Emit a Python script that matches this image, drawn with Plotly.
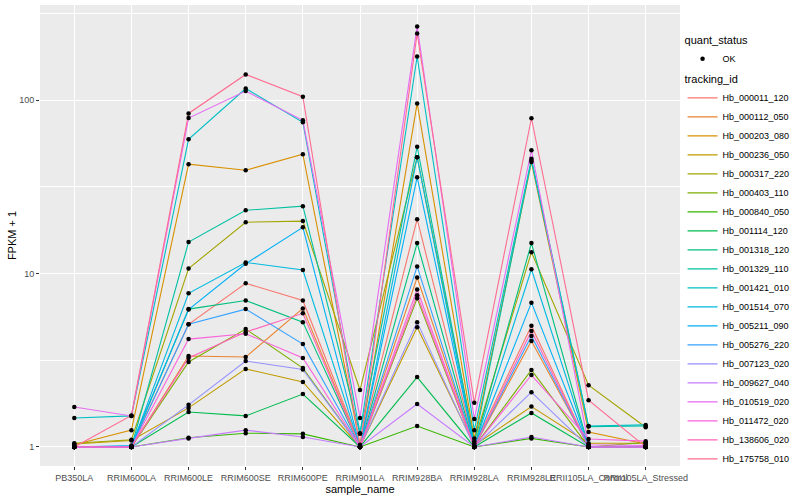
import plotly.graph_objects as go

samples = ["PB350LA", "RRIM600LA", "RRIM600LE", "RRIM600SE", "RRIM600PE", "RRIM901LA",
           "RRIM928BA", "RRIM928LA", "RRIM928LE", "RRII105LA_Control", "RRII105LA_Stressed"]

hb_000011_120 = [1.00, 1.01, 5.10, 8.80, 7.00, 1.02, 20.6, 1.02, 5.00, 1.00, 1.01]
hb_000112_050 = [1.00, 1.00, 3.35, 3.30, 6.30, 1.00, 9.50, 1.00, 4.08, 1.01, 1.00]
hb_000203_080 = [1.03, 1.25, 42.8, 39.5, 48.9, 1.03, 96.0, 1.12, 44.0, 1.22, 1.04]
hb_000236_050 = [1.04, 1.09, 1.68, 2.82, 2.37, 1.00, 4.90, 1.02, 1.71, 1.05, 1.05]
hb_000317_220 = [1.05, 1.10, 10.7, 19.8, 20.1, 2.13, 47.0, 1.08, 13.3, 2.27, 1.30]
hb_000403_110 = [1.00, 1.00, 3.09, 4.79, 2.85, 1.00, 7.20, 1.00, 2.78, 1.00, 1.06]
hb_000840_050 = [1.00, 1.00, 1.13, 1.20, 1.19, 1.00, 1.32, 1.00, 1.12, 1.00, 1.00]
hb_001114_120 = [1.00, 1.00, 1.59, 1.51, 2.02, 1.00, 2.53, 1.00, 1.57, 1.00, 1.00]
hb_001318_120 = [1.00, 1.00, 6.24, 7.00, 5.25, 1.00, 15.0, 1.00, 15.0, 1.00, 1.00]
hb_001329_110 = [1.00, 1.00, 15.2, 23.2, 24.5, 1.19, 54.0, 1.05, 45.0, 1.31, 1.32]
hb_001421_010 = [1.47, 1.51, 59.6, 117., 74.7, 1.20, 179., 1.25, 46.0, 1.32, 1.34]
hb_001514_070 = [1.00, 1.00, 7.70, 11.6, 10.5, 1.00, 47.0, 1.00, 10.6, 1.00, 1.00]
hb_005211_090 = [1.00, 1.02, 6.20, 11.4, 18.5, 1.00, 36.0, 1.00, 6.80, 1.00, 1.00]
hb_005276_220 = [1.00, 1.00, 5.10, 6.24, 3.92, 1.00, 11.0, 1.00, 4.37, 1.00, 1.00]
hb_007123_020 = [1.00, 1.00, 1.75, 3.13, 2.80, 1.00, 5.25, 1.00, 2.07, 1.00, 1.00]
hb_009627_040 = [1.00, 1.00, 1.12, 1.25, 1.14, 1.00, 1.77, 1.00, 1.14, 1.00, 1.00]
hb_010519_020 = [1.70, 1.51, 79.0, 113., 76.7, 1.47, 267., 1.45, 51.5, 1.03, 1.02]
hb_011472_020 = [1.00, 1.00, 4.19, 4.50, 3.26, 1.00, 8.10, 1.00, 2.60, 1.11, 1.08]
hb_138606_020 = [1.00, 1.00, 3.26, 4.60, 5.90, 1.00, 7.50, 1.00, 4.66, 1.00, 1.00]
hb_175758_010 = [1.00, 1.52, 84.0, 141., 105., 1.00, 243., 1.80, 78.8, 1.86, 1.00]

tracking_ids = ["Hb_000011_120", "Hb_000112_050", "Hb_000203_080", "Hb_000236_050",
                "Hb_000317_220", "Hb_000403_110", "Hb_000840_050", "Hb_001114_120",
                "Hb_001318_120", "Hb_001329_110", "Hb_001421_010", "Hb_001514_070",
                "Hb_005211_090", "Hb_005276_220", "Hb_007123_020", "Hb_009627_040",
                "Hb_010519_020", "Hb_011472_020", "Hb_138606_020", "Hb_175758_010"]

series_values = [hb_000011_120, hb_000112_050, hb_000203_080, hb_000236_050,
                 hb_000317_220, hb_000403_110, hb_000840_050, hb_001114_120,
                 hb_001318_120, hb_001329_110, hb_001421_010, hb_001514_070,
                 hb_005211_090, hb_005276_220, hb_007123_020, hb_009627_040,
                 hb_010519_020, hb_011472_020, hb_138606_020, hb_175758_010]

colors = ["#F8766D", "#EA8331", "#D89000", "#C09B00", "#A3A500", "#7CAE00", "#39B600",
          "#00BB4E", "#00BF7D", "#00C1A3", "#00BFC4", "#00BAE0", "#00B0F6", "#35A2FF",
          "#9590FF", "#C77CFF", "#E76BF3", "#FA62DB", "#FF62BC", "#FF6C91"]

FONT = "Liberation Sans, Arial, sans-serif"

fig = go.Figure()
for name, vals, col in zip(tracking_ids, series_values, colors):
    fig.add_trace(go.Scatter(x=samples, y=vals, mode="lines", name=name,
                             line=dict(color=col, width=1.1), legend="legend2"))

all_x = [s for vals in series_values for s in samples]
all_y = [v for vals in series_values for v in vals]
fig.add_trace(go.Scatter(x=all_x, y=all_y, mode="markers", name="OK",
                         marker=dict(color="black", size=4.5, symbol="circle"),
                         legend="legend"))

fig.update_layout(
    width=800, height=500,
    margin=dict(l=40, r=114, t=5, b=34),
    paper_bgcolor="white", plot_bgcolor="#EBEBEB",
    font=dict(family=FONT, color="#000000"),
    xaxis=dict(
        type="category", categoryorder="array", categoryarray=samples,
        range=[-0.6, 10.6], showgrid=True, gridcolor="white", gridwidth=1.1,
        ticks="outside", ticklen=3, tickcolor="#333333", tickwidth=1,
        tickfont=dict(size=9, color="#4D4D4D", family=FONT),
        title=dict(text="sample_name", font=dict(size=11, family=FONT), standoff=2),
        zeroline=False, showline=False, tickangle=0, automargin=False,
    ),
    yaxis=dict(
        type="log", range=[-0.11, 2.55],
        tickvals=[1, 10, 100], ticktext=["1", "10", "100"],
        showgrid=True, gridcolor="white", gridwidth=1.1,
        minor=dict(tickvals=[3.1623, 31.623, 316.23], showgrid=True,
                   gridcolor="white", gridwidth=0.5, ticklen=0),
        ticks="outside", ticklen=3, tickcolor="#333333", tickwidth=1,
        tickfont=dict(size=9, color="#4D4D4D", family=FONT),
        title=dict(text="FPKM + 1", font=dict(size=11, family=FONT), standoff=0),
        zeroline=False, showline=False, automargin=False,
    ),
    legend=dict(
        title=dict(text="quant_status", font=dict(size=11, family=FONT)),
        x=1.004, y=0.946, xanchor="left", yanchor="top",
        font=dict(size=9, family=FONT), itemwidth=30, bgcolor="rgba(0,0,0,0)",
        tracegroupgap=0,
    ),
    legend2=dict(
        title=dict(text="tracking_id", font=dict(size=11, family=FONT)),
        x=1.004, y=0.861, xanchor="left", yanchor="top",
        font=dict(size=9, family=FONT), itemwidth=30, bgcolor="rgba(0,0,0,0)",
        tracegroupgap=0,
    ),
    showlegend=True,
)

fig.write_html("out.html", config={"displayModeBar": False},
               post_script="document.body.style.margin='0';")
